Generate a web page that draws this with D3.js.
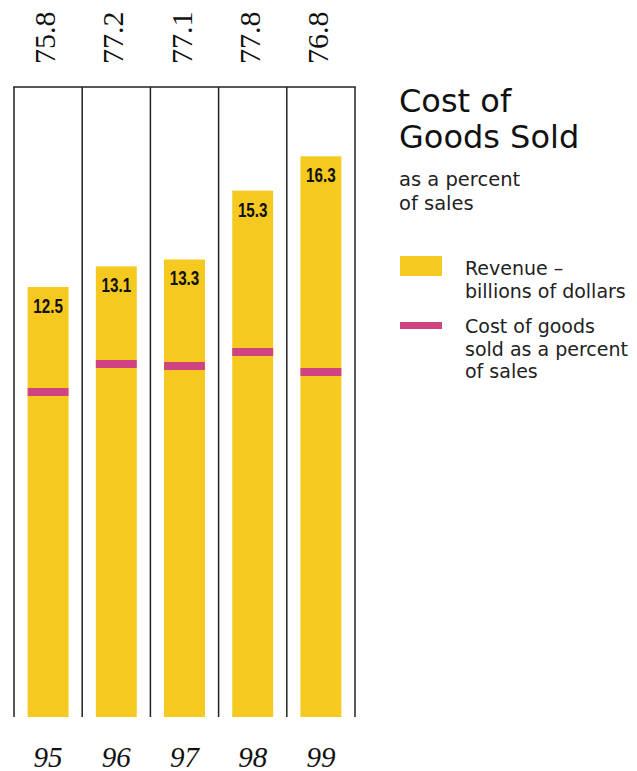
<!DOCTYPE html>
<html>
<head>
<meta charset="utf-8">
<script src="https://cdn.jsdelivr.net/npm/d3@7"></script>
<style>
  html, body { margin: 0; padding: 0; background: #fff; }
  svg { display: block; }
  .serif { font-family: "Liberation Serif", "DejaVu Serif", serif; }
  .sans { font-family: "DejaVu Sans", sans-serif; }
  .bold-sans { font-family: "Liberation Sans", Arial, sans-serif; }
</style>
</head>
<body>
<svg id="chart_svg" width="637" height="771"></svg>
<script>
// chart values
const years = ["95", "96", "97", "98", "99"];
const revenue = [12.5, 13.1, 13.3, 15.3, 16.3];
const costPercent = [75.8, 77.2, 77.1, 77.8, 76.8];
const revenueLabels = ["12.5", "13.1", "13.3", "15.3", "16.3"];
const percentLabels = ["75.8", "77.2", "77.1", "77.8", "76.8"];

const legendItems = [
  { kind: "bar", lines: ["Revenue \u2013", "billions of dollars"] },
  { kind: "marker", lines: ["Cost of goods", "sold as a percent", "of sales"] }
];

const yellow = "#F5C91F";
const pink = "#CF4480";

const svg = d3.select("#chart_svg");

const frame = { left: 14, right: 355, top: 87, bottom: 717 };

/**
 * Scales
 */
const xScale = d3.scaleBand()
  .domain(years)
  .range([frame.left, frame.right])
  .padding(0);

const barW = xScale.bandwidth() * 0.6;

// revenue bars grow from the bottom of the frame
const yScale = d3.scaleLinear()
  .domain([0, 10])
  .range([frame.bottom, frame.bottom - 344]);

// percent markers sit on their own scale
const pScale = d3.scaleLinear()
  .domain([75, 80])
  .range([408, 308]);

const data = years.map((y, i) => ({
  year: y,
  revenue: revenue[i],
  pct: costPercent[i],
  revLabel: revenueLabels[i],
  pctLabel: percentLabels[i]
}));

/**
 * Frame: top rule and column dividers
 */
const g = svg.append("g");

g.append("line")
  .attr("x1", frame.left - 0.75)
  .attr("x2", frame.right + 0.75)
  .attr("y1", frame.top)
  .attr("y2", frame.top)
  .attr("stroke", "#222")
  .attr("stroke-width", 1.5);

const dividers = years.map(y => xScale(y)).concat([frame.right]);

g.selectAll(".divider")
  .data(dividers)
  .enter()
  .append("line")
  .attr("class", "divider")
  .attr("x1", d => d)
  .attr("x2", d => d)
  .attr("y1", frame.top)
  .attr("y2", frame.bottom)
  .attr("stroke", "#222")
  .attr("stroke-width", 1.5);

/**
 * Bars
 */
g.selectAll(".bar")
  .data(data)
  .enter()
  .append("rect")
  .attr("class", "bar")
  .attr("x", d => xScale(d.year) + (xScale.bandwidth() - barW) / 2)
  .attr("y", d => yScale(d.revenue))
  .attr("width", barW)
  .attr("height", d => frame.bottom - yScale(d.revenue))
  .attr("fill", yellow);

// pink percent markers
g.selectAll(".marker")
  .data(data)
  .enter()
  .append("rect")
  .attr("class", "marker")
  .attr("x", d => xScale(d.year) + (xScale.bandwidth() - barW) / 2)
  .attr("y", d => pScale(d.pct) - 4)
  .attr("width", barW)
  .attr("height", 8)
  .attr("fill", pink);

// revenue labels inside the bars (squeezed to look condensed)
g.selectAll(".rev-label")
  .data(data)
  .enter()
  .append("g")
  .attr("transform", d => "translate(" + (xScale(d.year) + xScale.bandwidth() / 2) + "," + (yScale(d.revenue) + 26) + ") scale(0.78,1)")
  .append("text")
  .attr("class", "rev-label bold-sans")
  .attr("text-anchor", "middle")
  .attr("font-weight", "bold")
  .attr("font-size", 19.5)
  .attr("fill", "#111")
  .text(d => d.revLabel);

// rotated percent labels above the frame
g.selectAll(".pct-label")
  .data(data)
  .enter()
  .append("text")
  .attr("class", "pct-label serif")
  .attr("transform", d => "translate(" + (xScale(d.year) + xScale.bandwidth() / 2 + 7) + ",64) rotate(-90)")
  .attr("text-anchor", "start")
  .attr("font-size", 30)
  .attr("fill", "#111")
  .text(d => d.pctLabel);

// year labels
g.selectAll(".year-label")
  .data(data)
  .enter()
  .append("text")
  .attr("class", "year-label serif")
  .attr("x", d => xScale(d.year) + xScale.bandwidth() / 2)
  .attr("y", 767)
  .attr("text-anchor", "middle")
  .attr("font-style", "italic")
  .attr("font-size", 29)
  .attr("fill", "#111")
  .text(d => d.year);

/**
 * Title block
 */
const title = svg.append("g").attr("transform", "translate(399,0)");

title.selectAll(".title-line")
  .data(["Cost of", "Goods Sold"])
  .enter()
  .append("text")
  .attr("class", "title-line sans")
  .attr("x", 0)
  .attr("y", (d, i) => 112 + i * 36)
  .attr("font-size", 32)
  .attr("fill", "#111")
  .text(d => d);

title.selectAll(".sub-line")
  .data(["as a percent", "of sales"])
  .enter()
  .append("text")
  .attr("class", "sub-line sans")
  .attr("x", 0)
  .attr("y", (d, i) => 186 + i * 24)
  .attr("font-size", 19.5)
  .attr("fill", "#222")
  .text(d => d);

/**
 * Legend
 */
const legend = svg.append("g").attr("class", "legend");

const legendTop = [256, 322];

legendItems.forEach((item, i) => {
  const lg = legend.append("g")
    .attr("transform", "translate(400," + legendTop[i] + ")");

  lg.append("rect")
    .attr("x", 0)
    .attr("y", 0)
    .attr("width", 42)
    .attr("height", item.kind === "bar" ? 20 : 7)
    .attr("fill", item.kind === "bar" ? yellow : pink);

  lg.selectAll("text")
    .data(item.lines)
    .enter()
    .append("text")
    .attr("class", "sans")
    .attr("x", 65)
    .attr("y", (d, j) => (item.kind === "bar" ? 19 : 11) + j * 22.5)
    .attr("font-size", 19)
    .attr("fill", "#222")
    .text(d => d);
});
</script>
</body>
</html>
